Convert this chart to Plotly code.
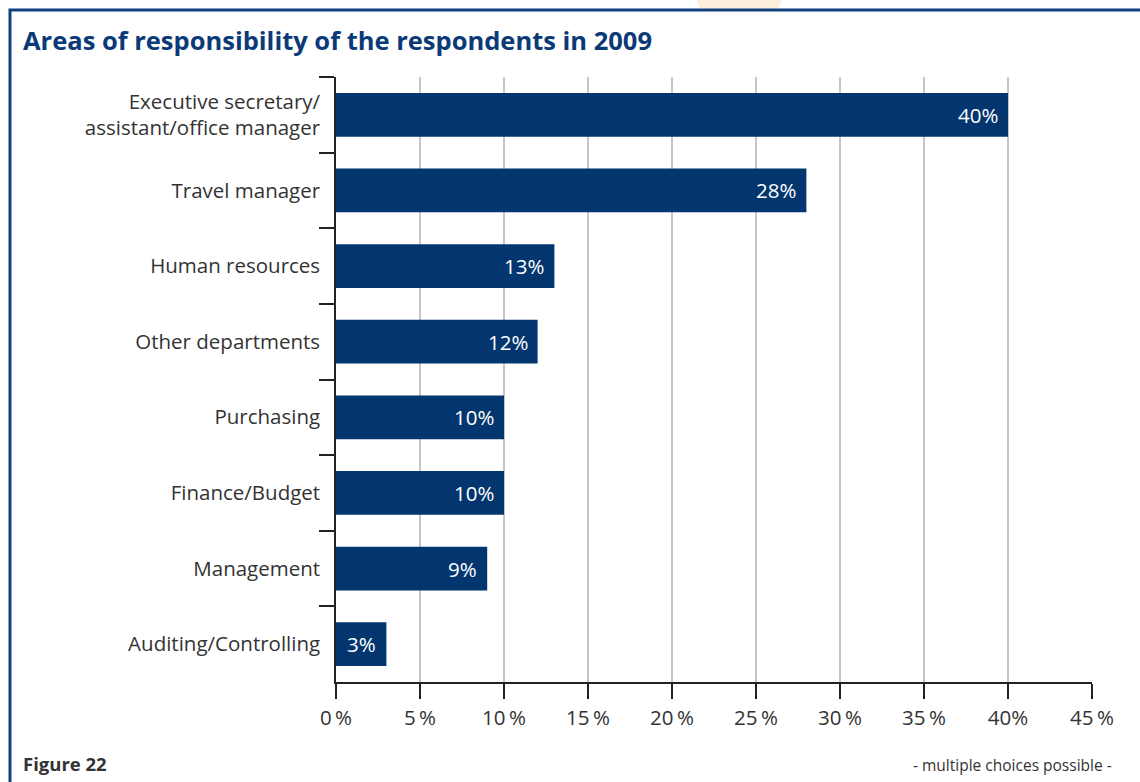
import plotly.graph_objects as go

# Survey data: share of respondents per area of responsibility (multiple answers)
categories = [
    "Executive secretary/<br>assistant/office manager",
    "Travel manager",
    "Human resources",
    "Other departments",
    "Purchasing",
    "Finance/Budget",
    "Management",
    "Auditing/Controlling",
]
shares = [40, 28, 13, 12, 10, 10, 9, 3]
tick_values = [0, 5, 10, 15, 20, 25, 30, 35, 40, 45]
tick_labels = ["0\u2009%", "5\u2009%", "10\u2009%", "15\u2009%", "20\u2009%",
               "25\u2009%", "30\u2009%", "35\u2009%", "40%", "45\u2009%"]

NAVY = "#03366f"
TEXT = "#333333"
FONT = "Open Sans"

W, H = 1140, 782
L, R, T, B = 336, 48, 77, 100
pw, ph = W - L - R, H - T - B


def px(x):
    return (x - L) / pw


def py(y):
    return (H - B - y) / ph


fig = go.Figure(
    go.Bar(
        x=shares,
        y=categories,
        orientation="h",
        marker=dict(color=NAVY, line=dict(width=0)),
        width=0.58,
        hoverinfo="skip",
    )
)

# value labels inside the end of each bar
for cat, v in zip(categories, shares):
    fig.add_annotation(
        x=v, y=cat, xref="x", yref="y", text=f"{v}%", showarrow=False,
        xanchor="right", xshift=-8, font=dict(family=FONT, size=20.5, color="white"),
    )

# frame: left and top border lines
fig.add_shape(
    type="path",
    path=f"M {px(10)} {py(790)} L {px(10)} {py(10)} L {px(1150)} {py(10)}",
    xref="paper", yref="paper",
    line=dict(color="#123f80", width=3),
)
# soft peach tab at the top edge
fig.add_shape(
    type="path",
    path=(f"M {px(696)} {py(-2)} L {px(782)} {py(-2)} "
          f"Q {px(780)} {py(6)} {px(777)} {py(9)} "
          f"L {px(701)} {py(9)} Q {px(698)} {py(6)} {px(696)} {py(-2)} Z"),
    xref="paper", yref="paper",
    fillcolor="#fdeedb", line=dict(width=0), layer="below",
)

fig.add_annotation(
    x=px(21), y=py(40), xref="paper", yref="paper", xanchor="left", yanchor="middle",
    text="<b>Areas of responsibility of the respondents in 2009</b>", showarrow=False,
    font=dict(family=FONT, size=25.5, color="#0b3a78"),
)
fig.add_annotation(
    x=px(21), y=py(764), xref="paper", yref="paper", xanchor="left", yanchor="middle",
    text="<b>Figure 22</b>", showarrow=False,
    font=dict(family=FONT, size=18.5, color=TEXT),
)
fig.add_annotation(
    x=px(1114), y=py(765), xref="paper", yref="paper", xanchor="right", yanchor="middle",
    text="- multiple choices possible -", showarrow=False,
    font=dict(family=FONT, size=15.5, color=TEXT),
)

fig.update_layout(
    width=W, height=H,
    margin=dict(l=L, r=R, t=T, b=B, pad=0),
    paper_bgcolor="white", plot_bgcolor="white",
    showlegend=False,
    font=dict(family=FONT, color=TEXT),
    bargap=0.42,
)
fig.update_xaxes(
    range=[0, 45], tickvals=tick_values, ticktext=tick_labels,
    showgrid=True, gridcolor="#c6c6c6", gridwidth=1.5,
    showline=True, linecolor="#222222", linewidth=1.5,
    ticks="outside", ticklen=15, tickcolor="#222222", tickwidth=1.5,
    tickfont=dict(family=FONT, size=20.5, color=TEXT),
    ticklabelstandoff=2, zeroline=False, fixedrange=True,
)
fig.update_yaxes(
    autorange="reversed", categoryorder="array", categoryarray=categories,
    showline=True, linecolor="#222222", linewidth=1.5,
    ticks="outside", ticklen=15, tickcolor="#222222", tickwidth=1.5,
    tickson="boundaries", showgrid=False, ticklabelstandoff=10,
    tickfont=dict(family=FONT, size=20.5, color=TEXT), fixedrange=True,
)

fig.write_html("out.html", config={"displayModeBar": False})
